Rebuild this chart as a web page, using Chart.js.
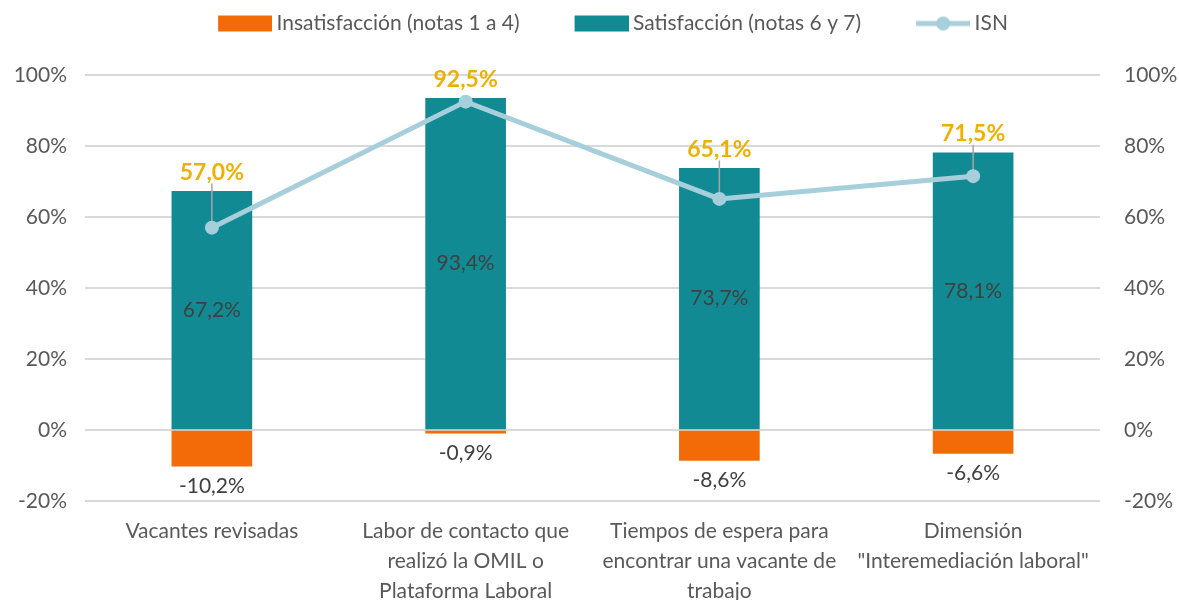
<!DOCTYPE html>
<html>
<head>
<meta charset="utf-8">
<script src="https://cdn.jsdelivr.net/npm/chart.js@4.4.1/dist/chart.umd.min.js"></script>
<style>
  html, body { margin: 0; padding: 0; background: #fff; }
  #wrap { width: 1179px; height: 600px; position: relative; }
</style>
</head>
<body>
<div id="wrap"><canvas id="isnChart"></canvas></div>
<script>
const categories = [
    'Vacantes revisadas',
    ['Labor de contacto que', 'realizó la OMIL o', 'Plataforma Laboral'],
    ['Tiempos de espera para', 'encontrar una vacante de', 'trabajo'],
    ['Dimensión', '"Interemediación laboral"']
];
const insatisfaccion = [-10.2, -0.9, -8.6, -6.6];
const satisfaccion = [67.2, 93.4, 73.7, 78.1];
const isn = [57.0, 92.5, 65.1, 71.5];
const yTicks = [-20, 0, 20, 40, 60, 80, 100];

const ORANGE = '#F26B08';
const TEAL = '#118A94';
const LIGHTBLUE = '#A7CEDB';
const GOLD = '#EDB000';
const TEXT = '#595959';
const FONT = 'Lato, "Open Sans", sans-serif';

function fmt(v) {
    return v.toFixed(1).replace('.', ',') + '%';
}

// legend icons drawn on small canvases (left part is blank spacing)
const GAP = 41;
const SHIFT = 6;
function makeIcon(kind) {
    const c = document.createElement('canvas');
    c.width = 54 + GAP + SHIFT * 2;
    c.height = 18;
    const g = c.getContext('2d');
    const x0 = GAP + SHIFT * 2;
    if (kind === 'line') {
        g.strokeStyle = LIGHTBLUE;
        g.lineWidth = 5;
        g.beginPath();
        g.moveTo(x0, 9);
        g.lineTo(x0 + 54, 9);
        g.stroke();
        g.fillStyle = LIGHTBLUE;
        g.beginPath();
        g.arc(x0 + 27, 9, 7, 0, Math.PI * 2);
        g.fill();
    } else {
        g.fillStyle = kind;
        g.fillRect(x0, 1, 54, 16);
    }
    return c;
}
const legendIcons = [makeIcon(ORANGE), makeIcon(TEAL), makeIcon('line')];

// leave room between the legend and the plot
const legendSpace = {
    id: 'legendSpace',
    beforeInit(chart) {
        const fit = chart.legend.fit;
        chart.legend.fit = function() {
            fit.bind(chart.legend)();
            this.height += 31;
        };
    }
};

const labelPlugin = {
    id: 'valueLabels',
    afterDatasetDraw(chart, args) {
        // leader lines go between the bars and the ISN line
        if (args.index !== 1) return;
        const ctx = chart.ctx;
        const satMeta = chart.getDatasetMeta(1);
        const isnMeta = chart.getDatasetMeta(2);
        ctx.save();
        ctx.strokeStyle = '#A6A6A6';
        ctx.lineWidth = 1.5;
        satMeta.data.forEach((bar, i) => {
            const pt = isnMeta.data[i];
            const from = bar.y - 8;
            if (pt.y - from > 14) {
                ctx.beginPath();
                ctx.moveTo(pt.x, from);
                ctx.lineTo(pt.x, pt.y);
                ctx.stroke();
            }
        });
        ctx.restore();
    },
    afterDatasetsDraw(chart) {
        const ctx = chart.ctx;
        const negMeta = chart.getDatasetMeta(0);
        const satMeta = chart.getDatasetMeta(1);
        const isnMeta = chart.getDatasetMeta(2);
        ctx.save();
        ctx.textAlign = 'center';
        ctx.textBaseline = 'middle';

        ctx.font = '21px ' + FONT;
        ctx.fillStyle = '#404040';
        satMeta.data.forEach((bar, i) => {
            ctx.fillText(fmt(satisfaccion[i]), bar.x, (bar.y + bar.base) / 2);
        });
        negMeta.data.forEach((bar, i) => {
            ctx.fillText(fmt(insatisfaccion[i]), bar.x, bar.y + 20);
        });

        ctx.font = 'bold 23px ' + FONT;
        ctx.fillStyle = GOLD;
        satMeta.data.forEach((bar, i) => {
            ctx.fillText(fmt(isn[i]), isnMeta.data[i].x, bar.y - 19);
        });
        ctx.restore();
    }
};

const ctx = document.getElementById('isnChart').getContext('2d');
const chart = new Chart(ctx, {
    type: 'bar',
    data: {
        labels: categories,
        datasets: [{
            label: 'Insatisfacción (notas 1 a 4)',
            data: insatisfaccion,
            backgroundColor: ORANGE,
            barThickness: 80,
            order: 2
        }, {
            label: 'Satisfacción (notas 6 y 7)',
            data: satisfaccion,
            backgroundColor: TEAL,
            barThickness: 80,
            order: 1
        }, {
            type: 'line',
            label: 'ISN',
            data: isn,
            yAxisID: 'y1',
            borderColor: LIGHTBLUE,
            backgroundColor: LIGHTBLUE,
            borderWidth: 5,
            pointRadius: 7,
            pointBorderWidth: 0,
            pointBackgroundColor: LIGHTBLUE,
            tension: 0,
            order: 0
        }]
    },
    options: {
        responsive: true,
        maintainAspectRatio: false,
        animation: false,
        layout: {
            padding: { top: 5, left: 0, right: 0, bottom: 0 }
        },
        plugins: {
            tooltip: { enabled: false },
            legend: {
                position: 'top',
                labels: {
                    usePointStyle: true,
                    pointStyleWidth: 54 + GAP,
                    boxHeight: 18,
                    padding: 8,
                    color: TEXT,
                    font: { family: FONT, size: 21 },
                    generateLabels: function(chart) {
                        return chart.data.datasets.map((ds, i) => ({
                            text: ds.label,
                            pointStyle: legendIcons[i],
                            datasetIndex: i,
                            hidden: false,
                            fontColor: TEXT,
                            lineWidth: 0,
                            strokeStyle: 'transparent',
                            fillStyle: 'transparent'
                        }));
                    }
                }
            }
        },
        scales: {
            x: {
                stacked: true,
                grid: { display: false, drawTicks: false },
                border: { display: false },
                ticks: {
                    color: TEXT,
                    padding: 15,
                    maxRotation: 0,
                    autoSkip: false,
                    font: { family: FONT, size: 21, lineHeight: 1.43 }
                },
                afterFit: function(scale) { scale.height = 99; }
            },
            y: {
                stacked: true,
                position: 'left',
                min: -20,
                max: 100,
                afterBuildTicks: function(scale) {
                    scale.ticks = yTicks.map(v => ({ value: v }));
                },
                grid: { color: '#D9D9D9', lineWidth: 2, drawTicks: false },
                border: { display: false },
                ticks: {
                    color: TEXT,
                    padding: 18,
                    font: { family: FONT, size: 21 },
                    callback: v => v + '%'
                },
                afterFit: function(scale) { scale.width = 85; }
            },
            y1: {
                position: 'right',
                min: -20,
                max: 100,
                afterBuildTicks: function(scale) {
                    scale.ticks = yTicks.map(v => ({ value: v }));
                },
                grid: { display: false, drawTicks: false },
                border: { display: false },
                ticks: {
                    color: TEXT,
                    padding: 24,
                    font: { family: FONT, size: 21 },
                    callback: v => v + '%'
                },
                afterFit: function(scale) { scale.width = 79; }
            }
        }
    },
    plugins: [legendSpace, labelPlugin]
});
</script>
</body>
</html>
